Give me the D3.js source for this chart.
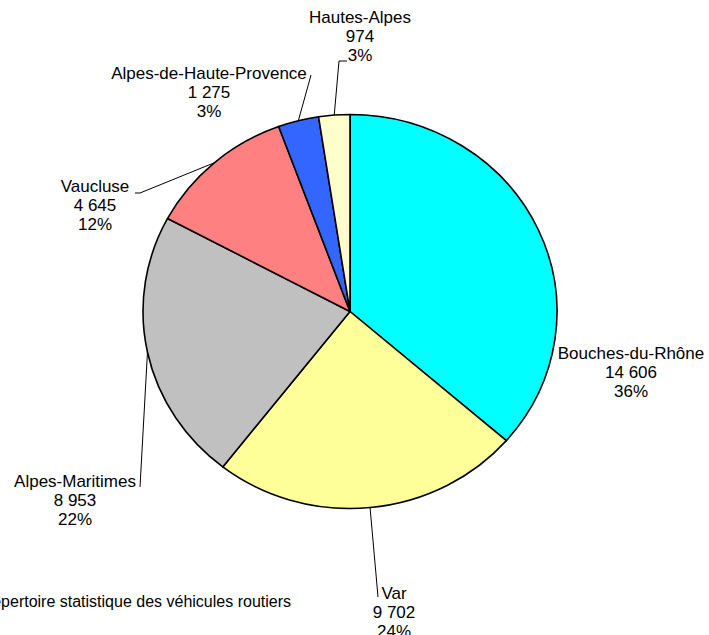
<!DOCTYPE html>
<html>
<head>
<meta charset="utf-8">
<script src="https://cdn.jsdelivr.net/npm/d3@7"></script>
<style>
  body { margin: 0; background: #ffffff; }
  text { font-family: Arial, "Liberation Sans", sans-serif; fill: #000; }
</style>
</head>
<body>
<div id="pie"></div>
<script>
// Data
const departments = ["Bouches-du-Rhône", "Var", "Alpes-Maritimes", "Vaucluse", "Alpes-de-Haute-Provence", "Hautes-Alpes"];
const vehicles = [14606, 9702, 8953, 4645, 1275, 974];
const percentLabels = ["36%", "24%", "22%", "12%", "3%", "3%"];
const sliceColors = ["#00FFFF", "#FFFF99", "#C0C0C0", "#FF8080", "#3366FF", "#FFFFCC"];
const sourceText = "Source : Répertoire statistique des véhicules routiers";

// Where each label sits (centre x, first baseline) and the bend points of its leader
const labelLayout = [
    { x: 631, y: 359, leader: null },
    { x: 394, y: 599, leader: [[378, 597]] },
    { x: 75, y: 487, leader: [[140, 487]] },
    { x: 95, y: 192, leader: [[140, 193], [135, 193]] },
    { x: 209, y: 79, leader: [[311, 75]] },
    { x: 360, y: 23, leader: [[339, 61], [347, 61]] }
];

const width = 709, height = 635;
const cx = 350, cy = 311.5;
const radius = 207, squash = 197 / 207;   // the pie is drawn slightly flattened
const lineHeight = 19;

const fr = d3.formatLocale({ decimal: ",", thousands: " ", grouping: [3], currency: ["", " €"] });
const fmt = fr.format(",");

const svg = d3.select("#pie")
              .append("svg")
              .attr("width", width)
              .attr("height", height);

const data = departments.map((d, i) => ({ name: d, value: vehicles[i], pct: percentLabels[i], color: sliceColors[i] }));

const pie = d3.pie()
              .sort(null)
              .value(d => d.value);

const arcs = pie(data);

const arc = d3.arc()
              .innerRadius(0)
              .outerRadius(radius);

// edge of the pie at the middle of each slice, for the leader lines
const edgeArc = d3.arc()
                  .innerRadius(radius)
                  .outerRadius(radius);

// Slices
const g = svg.append("g")
             .attr("transform", `translate(${cx},${cy}) scale(1,${squash})`);

g.selectAll("path")
 .data(arcs)
 .enter()
 .append("path")
 .attr("d", arc)
 .attr("fill", d => d.data.color)
 .attr("stroke", "#000")
 .attr("stroke-width", 1.6)
 .attr("stroke-linejoin", "round")
 .attr("vector-effect", "non-scaling-stroke");

// Leader lines
arcs.forEach((a, i) => {
    const lay = labelLayout[i];
    if (!lay.leader) return;
    const c = edgeArc.centroid(a);
    const pts = [[cx + c[0], cy + c[1] * squash]].concat(lay.leader);
    svg.append("path")
       .attr("d", d3.line()(pts))
       .attr("fill", "none")
       .attr("stroke", "#000")
       .attr("stroke-width", 1);
});

// Labels: name, value, percentage
arcs.forEach((a, i) => {
    const lay = labelLayout[i];
    const lines = [a.data.name, fmt(a.data.value), a.data.pct];
    const t = svg.append("text")
                 .attr("text-anchor", "middle")
                 .style("font-size", "17px");
    lines.forEach((s, k) => {
        t.append("tspan")
         .attr("x", lay.x)
         .attr("y", lay.y + k * lineHeight)
         .text(s);
    });
});

// Source note, cut by the left edge
svg.append("text")
   .attr("x", 291)
   .attr("y", 607)
   .attr("text-anchor", "end")
   .style("font-size", "16px")
   .text(sourceText);
</script>
</body>
</html>
